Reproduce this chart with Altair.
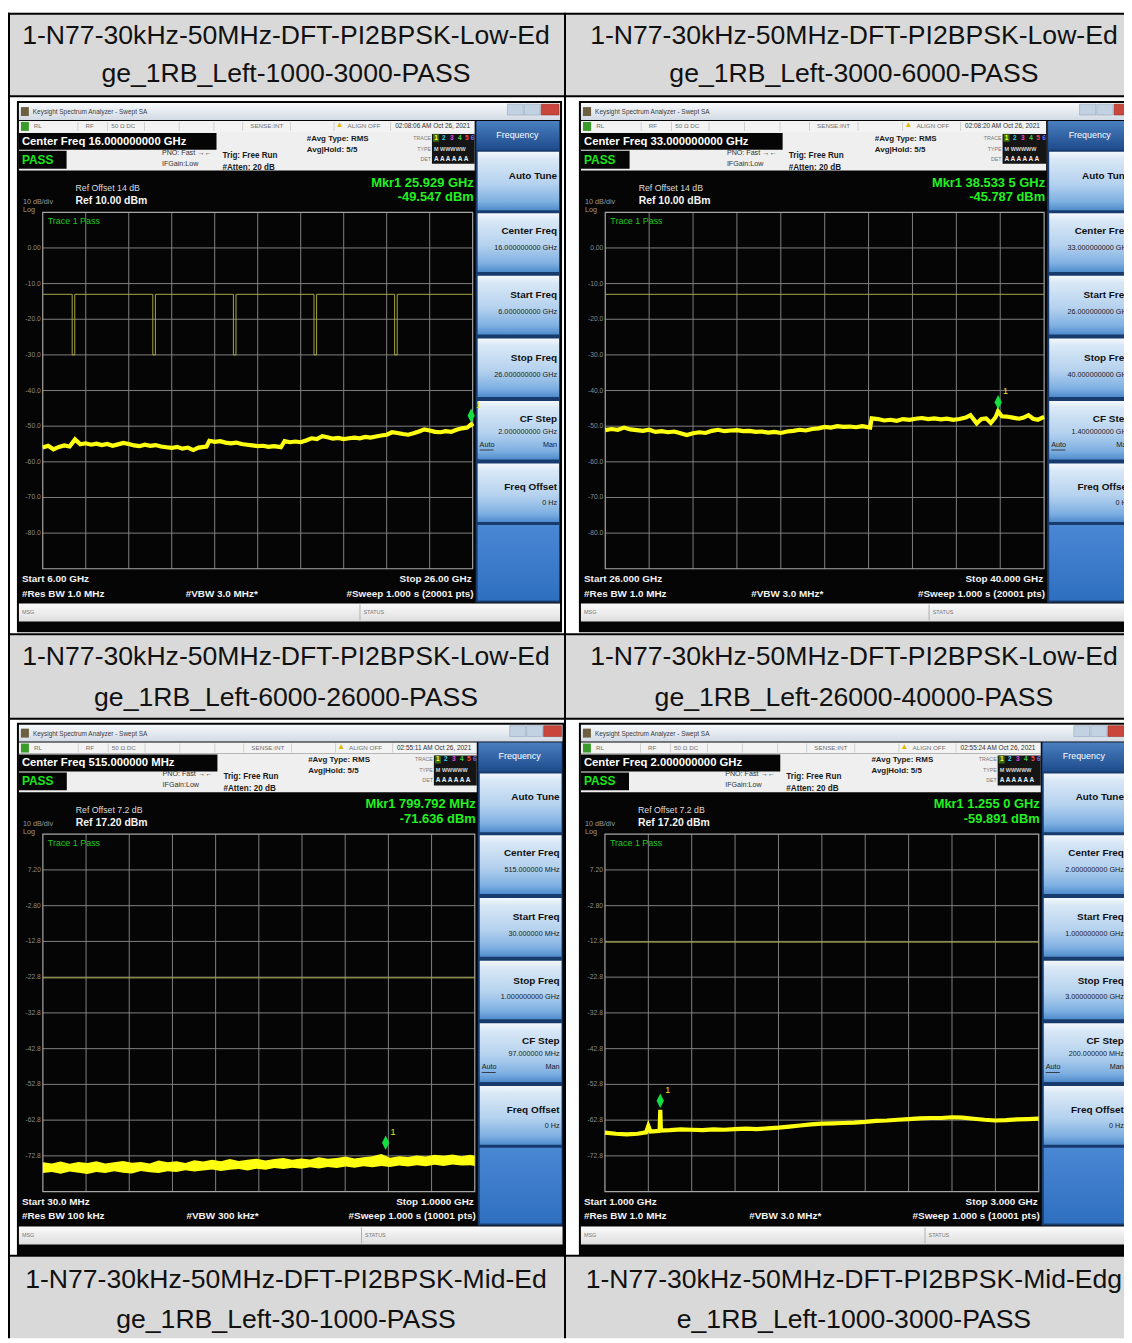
import altair as alt
import pandas as pd

FONT = "Liberation Sans"
W, H = 1124, 1335

# ---------------- table header captions ----------------
HEADERS = [
    ("1-N77-30kHz-50MHz-DFT-PI2BPSK-Low-Ed", "ge_1RB_Left-1000-3000-PASS"),
    ("1-N77-30kHz-50MHz-DFT-PI2BPSK-Low-Ed", "ge_1RB_Left-3000-6000-PASS"),
    ("1-N77-30kHz-50MHz-DFT-PI2BPSK-Low-Ed", "ge_1RB_Left-6000-26000-PASS"),
    ("1-N77-30kHz-50MHz-DFT-PI2BPSK-Low-Ed", "ge_1RB_Left-26000-40000-PASS"),
    ("1-N77-30kHz-50MHz-DFT-PI2BPSK-Mid-Ed", "ge_1RB_Left-30-1000-PASS"),
    ("1-N77-30kHz-50MHz-DFT-PI2BPSK-Mid-Edg", "e_1RB_Left-1000-3000-PASS"),
]

# ---------------- trace data (GHz / MHz, dBm) ----------------
F1 = [6.00, 6.25, 6.50, 6.75, 7.00, 7.25, 7.50, 7.75, 8.00, 8.25,
      8.50, 8.75, 9.00, 9.25, 9.50, 9.75, 10.00, 10.25, 10.50, 10.75,
      11.00, 11.25, 11.50, 11.75, 12.00, 12.25, 12.50, 12.75, 13.00, 13.25,
      13.50, 13.62, 13.75, 14.00, 14.25, 14.50, 14.75, 15.00, 15.25, 15.50,
      15.75, 16.00, 16.25, 16.50, 16.75, 17.00, 17.08, 17.25, 17.50, 17.75,
      18.00, 18.25, 18.50, 18.75, 19.00, 19.25, 19.50, 19.75, 20.00, 20.25,
      20.50, 20.75, 21.00, 21.25, 21.50, 21.75, 22.00, 22.25, 22.50, 22.75,
      23.00, 23.25, 23.50, 23.75, 24.00, 24.25, 24.50, 24.75, 25.00, 25.25,
      25.50, 25.75, 25.93, 26.00]
V1 = [-56.0, -55.5, -56.5, -55.8, -55.4, -55.7, -53.7, -55.1, -54.8, -55.2,
      -54.9, -55.3, -55.0, -55.5, -55.1, -54.7, -55.0, -55.4, -55.6, -55.2,
      -55.5, -55.3, -55.7, -55.9, -56.1, -55.8, -56.3, -56.0, -56.7, -56.0,
      -55.8, -55.7, -54.1, -54.4, -54.2, -54.6, -54.8, -54.6, -55.0, -55.2,
      -55.4, -55.6, -55.5, -55.8, -55.6, -55.8, -55.9, -54.2, -54.5, -54.3,
      -54.5, -54.0, -53.4, -53.6, -52.8, -53.1, -53.5, -53.3, -53.6, -53.4,
      -53.2, -53.4, -53.0, -53.2, -52.9, -52.6, -52.4, -51.7, -51.9, -52.2,
      -52.4, -52.0, -51.5, -50.9, -51.2, -51.6, -51.7, -51.4, -51.6, -51.0,
      -50.6, -50.4, -49.5, -50.1]

F2 = [26.0, 26.2, 26.4, 26.6, 26.8, 27.0, 27.2, 27.4, 27.6, 27.8,
      28.0, 28.2, 28.4, 28.6, 28.8, 29.0, 29.2, 29.4, 29.6, 29.8,
      30.0, 30.2, 30.4, 30.6, 30.8, 31.0, 31.2, 31.4, 31.6, 31.8,
      32.0, 32.2, 32.4, 32.6, 32.8, 33.0, 33.2, 33.4, 33.6, 33.8,
      34.0, 34.2, 34.45, 34.5, 34.7, 34.9, 35.1, 35.3, 35.5, 35.7,
      35.9, 36.1, 36.3, 36.5, 36.7, 36.9, 37.1, 37.3, 37.5, 37.65,
      37.85, 38.0, 38.15, 38.3, 38.45, 38.53, 38.65, 38.8, 39.0, 39.2,
      39.35, 39.5, 39.65, 39.8, 40.0]
V2 = [-51.1, -50.8, -51.0, -50.4, -50.9, -51.1, -51.3, -51.0, -51.6, -51.4,
      -51.7, -51.5, -52.0, -52.5, -52.0, -51.7, -51.9, -51.3, -51.0, -51.4,
      -51.2, -51.1, -51.4, -51.3, -51.6, -51.5, -51.8, -51.6, -51.9, -51.5,
      -51.3, -51.0, -51.2, -50.8, -50.6, -50.2, -50.4, -50.0, -50.2, -50.1,
      -50.3, -50.0, -50.4, -47.8, -48.0, -48.4, -48.2, -48.5, -48.0, -48.2,
      -47.9, -47.7, -48.0, -47.8, -48.1, -47.9, -48.2, -48.0, -47.6, -46.9,
      -49.2, -48.0, -47.8, -49.1, -47.5, -45.8, -47.2, -47.3, -47.6, -47.9,
      -47.6, -46.9, -47.9, -48.2, -47.4]

F3 = [30, 50, 70, 90, 110, 130, 150, 170, 190, 210,
      230, 250, 270, 290, 310, 330, 350, 370, 390, 410,
      430, 450, 470, 490, 510, 530, 550, 570, 590, 610,
      630, 650, 670, 690, 710, 730, 750, 770, 790, 810,
      830, 850, 870, 890, 910, 930, 950, 970, 990, 1000]
HI3 = [-74.6, -74.9, -74.4, -75.0, -74.5, -74.8, -74.3, -74.9, -74.6, -74.2,
       -74.7, -74.5, -74.9, -74.1, -74.6, -74.3, -74.8, -74.0, -74.4, -73.9,
       -74.3, -73.7, -74.2, -73.9, -73.6, -74.1, -73.7, -73.4, -73.9, -73.5,
       -73.8, -73.2, -73.6, -73.4, -73.0, -73.5, -73.2, -72.9, -72.3, -73.3,
       -72.9, -73.1, -72.7, -73.0, -72.5, -72.8, -72.4, -72.9, -72.5, -72.8]
LO3 = [-77.6, -77.3, -77.8, -77.2, -77.5, -77.9, -77.3, -77.6, -77.1, -77.5,
       -77.7, -77.0, -77.4, -77.6, -77.1, -77.3, -76.8, -77.2, -76.9, -76.6,
       -77.0, -76.7, -76.5, -76.9, -76.4, -76.7, -76.2, -76.5, -76.1, -76.4,
       -76.0, -76.3, -75.9, -76.2, -75.8, -76.1, -75.7, -76.0, -75.6, -75.9,
       -75.5, -75.8, -75.4, -75.7, -75.3, -75.6, -75.2, -75.5, -75.4, -75.6]

F4 = [1.00, 1.05, 1.10, 1.15, 1.19, 1.20, 1.21, 1.25, 1.252, 1.255, 1.258,
      1.30, 1.35, 1.40, 1.45, 1.50, 1.55, 1.60, 1.65, 1.70, 1.75,
      1.80, 1.85, 1.90, 1.95, 2.00, 2.05, 2.10, 2.15, 2.20, 2.25,
      2.30, 2.35, 2.40, 2.45, 2.50, 2.55, 2.60, 2.65, 2.70, 2.75,
      2.80, 2.85, 2.90, 2.95, 3.00]
V4 = [-66.3, -66.6, -66.8, -66.6, -66.2, -64.4, -66.0, -65.8, -65.7, -59.9, -65.7,
      -65.6, -65.4, -65.5, -65.6, -65.4, -65.5, -65.3, -65.2, -65.3, -65.1,
      -64.9, -64.6, -64.3, -64.0, -63.8, -63.7, -63.6, -63.5, -63.3, -63.0,
      -62.9, -62.7, -62.5, -62.3, -62.2, -62.2, -62.0, -62.1, -62.4, -62.7,
      -62.9, -62.8, -62.6, -62.5, -62.4]

# limit lines
LIM1_NOTCHES = [7.43, 11.18, 14.93, 18.68, 22.43]
LIM1_LEVEL, LIM1_FLOOR = -13.0, -30.0

YL_A = ["0.00", "-10.0", "-20.0", "-30.0", "-40.0", "-50.0", "-60.0", "-70.0", "-80.0"]
YL_B = ["7.20", "-2.80", "-12.8", "-22.8", "-32.8", "-42.8", "-52.8", "-62.8", "-72.8"]

PANELS = [
    dict(X0=17, Y0=97, sx=1.0, sy=1.0, start=6.0, stop=26.0, ref=10.0, ylabels=YL_A,
         center="Center Freq 16.000000000 GHz", time="02:08:06 AM Oct 26, 2021",
         mkr1="Mkr1 25.929 GHz", mkr2="-49.547 dBm", mkr=(25.929, -49.547),
         refoff="Ref Offset 14 dB", reflvl="Ref 10.00 dBm",
         startt="Start 6.00 GHz", stopt="Stop 26.00 GHz", rbw="#Res BW 1.0 MHz",
         vbw="#VBW 3.0 MHz*", sweep="#Sweep  1.000 s (20001 pts)",
         menu=["16.000000000 GHz", "6.000000000 GHz", "26.000000000 GHz", "2.000000000 GHz", "0 Hz"],
         trace=("line", F1, V1), limit="notch"),
    dict(X0=583, Y0=97, sx=1.0208, sy=1.0, start=26.0, stop=40.0, ref=10.0, ylabels=YL_A,
         center="Center Freq 33.000000000 GHz", time="02:08:20 AM Oct 26, 2021",
         mkr1="Mkr1 38.533 5 GHz", mkr2="-45.787 dBm", mkr=(38.5335, -45.787),
         refoff="Ref Offset 14 dB", reflvl="Ref 10.00 dBm",
         startt="Start 26.000 GHz", stopt="Stop 40.000 GHz", rbw="#Res BW 1.0 MHz",
         vbw="#VBW 3.0 MHz*", sweep="#Sweep  1.000 s (20001 pts)",
         menu=["33.000000000 GHz", "26.000000000 GHz", "40.000000000 GHz", "1.400000000 GHz", "0 Hz"],
         trace=("line", F2, V2), limit=-13.0),
    dict(X0=17, Y0=723, sx=1.0046, sy=1.0028, start=30.0, stop=1000.0, ref=17.2, ylabels=YL_B,
         center="Center Freq 515.000000 MHz", time="02:55:11 AM Oct 26, 2021",
         mkr1="Mkr1 799.792 MHz", mkr2="-71.636 dBm", mkr=(799.792, -71.636),
         refoff="Ref Offset 7.2 dB", reflvl="Ref 17.20 dBm",
         startt="Start 30.0 MHz", stopt="Stop 1.0000 GHz", rbw="#Res BW 100 kHz",
         vbw="#VBW 300 kHz*", sweep="#Sweep  1.000 s (10001 pts)",
         menu=["515.000000 MHz", "30.000000 MHz", "1.000000000 GHz", "97.000000 MHz", "0 Hz"],
         trace=("band", F3, HI3, LO3), limit=-23.0),
    dict(X0=583, Y0=723, sx=1.009, sy=1.0028, start=1.0, stop=3.0, ref=17.2, ylabels=YL_B,
         center="Center Freq 2.000000000 GHz", time="02:55:24 AM Oct 26, 2021",
         mkr1="Mkr1 1.255 0 GHz", mkr2="-59.891 dBm", mkr=(1.255, -59.891),
         refoff="Ref Offset 7.2 dB", reflvl="Ref 17.20 dBm",
         startt="Start 1.000 GHz", stopt="Stop 3.000 GHz", rbw="#Res BW 1.0 MHz",
         vbw="#VBW 3.0 MHz*", sweep="#Sweep  1.000 s (10001 pts)",
         menu=["2.000000000 GHz", "1.000000000 GHz", "3.000000000 GHz", "200.000000 MHz", "0 Hz"],
         trace=("line", F4, V4), limit=-13.0),
]

DIAMOND = "M0,-1L0.5,0L0,1L-0.5,0Z"
GRID = "#808080"
LIMIT = "#a8a845"
YELLOW = "#ffff10"
GREEN = "#19e619"


def grad(stops):
    return alt.LinearGradient(
        gradient="linear",
        stops=[alt.GradientStop(color=c, offset=o) for o, c in stops],
        x1=0, x2=0, y1=0, y2=1)


def px_rect(rows, **mk):
    df = pd.DataFrame(rows, columns=["x", "y", "x2", "y2"])
    return alt.Chart(df).mark_rect(**mk).encode(
        x=alt.X("x:Q", scale=None, axis=None), x2="x2:Q",
        y=alt.Y("y:Q", scale=None, axis=None), y2="y2:Q")


def px_text(rows, size, color, weight="normal", align="left", font=FONT, **mk):
    df = pd.DataFrame(rows, columns=["x", "y", "t"])
    return alt.Chart(df).mark_text(
        align=align, baseline="middle", fontSize=size, color=color,
        fontWeight=weight, font=font, **mk).encode(
        x=alt.X("x:Q", scale=None, axis=None),
        y=alt.Y("y:Q", scale=None, axis=None), text="t:N")


layers = []

# ---------------- table: header cells, borders ----------------
ROW_BANDS = [(1, 84), (627, 711), (1253, 1335)]
COL_BANDS = [(2, 560), (562, 1124)]
layers.append(px_rect([(c0, r0, c1, r1) for (r0, r1) in ROW_BANDS for (c0, c1) in COL_BANDS],
                      fill="#d9d9d9"))
hdr_rows = []
TXT_Y = [(23, 62), (649, 690), (1276, 1317)]
TXT_X = [280, 852]
for k, (l1, l2) in enumerate(HEADERS):
    r, c = divmod(k, 2)
    hdr_rows.append((TXT_X[c], TXT_Y[r][0], l1))
    hdr_rows.append((TXT_X[c], TXT_Y[r][1], l2))
layers.append(px_text(hdr_rows, 26.8, "#111111", align="center"))
borders = [(0, 0, W, 2), (0, 83, W, 85), (0, 625, W, 627), (0, 710, W, 712),
           (0, 1251, W, 1253), (0, 0, 2, H), (560, 0, 562, H)]
layers.append(px_rect(borders, fill="#000000"))


# ---------------- analyzer panels ----------------
def panel(p):
    X0, Y0, sx, sy = p["X0"], p["Y0"], p["sx"], p["sy"]

    def tx(x):
        return X0 + (x - 17) * sx - 8

    def ty(y):
        return Y0 + (y - 97) * sy - 8

    def R(boxes, **mk):
        return px_rect([(tx(a), ty(b), tx(c), ty(d)) for a, b, c, d in boxes], **mk)

    def T(items, size, color, weight="normal", align="left", **mk):
        return px_text([(tx(a), ty(b), s) for a, b, s in items], size, color, weight, align, **mk)

    L = []
    # frame and window chrome
    L.append(R([(17, 97, 566, 632)], fill="#050505"))
    L.append(R([(19, 99, 564, 116)], fill=grad([(0, "#f8fafc"), (1, "#d2dae4")])))
    L.append(R([(21, 103, 29, 112)], fill="#6d6040"))
    L.append(T([(33, 108, "Keysight Spectrum Analyzer - Swept SA")], 6.5, "#3a3a3a"))
    L.append(R([(511, 100, 527, 111), (528, 100, 544, 111)], fill="#c3d2e2", stroke="#8a9bb0", strokeWidth=0.5))
    L.append(R([(545, 100, 563, 111)], fill="#c8463c", stroke="#8a2a20", strokeWidth=0.5))
    # status row
    L.append(R([(19, 117, 478, 128)], fill="#f3f3f3"))
    L.append(R([(x, 118, x + 0.8, 127) for x in [78, 108, 145, 180, 215, 244, 292, 336, 393]], fill="#c8c8c8"))
    L.append(R([(21, 118, 29, 127)], fill="#3a9a2a"))
    L.append(T([(34, 122, "RL"), (86, 122, "RF"), (112, 122, "50 \u03a9   DC"),
                (252, 122, "SENSE:INT"), (350, 122, "ALIGN OFF")], 6.3, "#707070"))
    L.append(T([(342, 121, "\u25b2")], 8, "#e0b800", align="center"))
    L.append(T([(398, 122, p["time"])], 6.5, "#303030"))
    # info block
    L.append(R([(19, 128, 478, 167)], fill="#efefef"))
    L.append(R([(19, 129, 218, 146), (19, 147, 67, 165)], fill="#050505"))
    L.append(T([(22, 138, p["center"])], 11.4, "#ffffff", "bold"))
    L.append(T([(22, 156, "PASS")], 12, GREEN, "bold"))
    L.append(T([(163, 149, "PNO: Fast \u2192\u2190"), (163, 160, "IFGain:Low")], 7.2, "#333333"))
    L.append(T([(224, 152, "Trig: Free Run"), (224, 164, "#Atten: 20 dB")], 8.2, "#1a1a1a", "bold"))
    L.append(T([(309, 135, "#Avg Type: RMS"), (309, 146, "Avg|Hold: 5/5")], 8.0, "#1a1a1a", "bold"))
    L.append(T([(434, 134, "TRACE"), (434, 145, "TYPE"), (434, 155, "DET")], 5.3, "#777777", align="right"))
    L.append(R([(435, 130, 478, 160)], fill="#151515"))
    L.append(R([(436, 130, 442, 138)], fill="#3a6a10"))
    for ch, xx, col in [("1", 439, "#ffff30"), ("2", 447, "#30d8f0"), ("3", 455, "#e048e0"),
                        ("4", 463, "#48d048"), ("5", 470, "#ff4848"), ("6", 476, "#7070ff")]:
        L.append(T([(xx, 134, ch)], 6.5, col, "bold", align="center"))
    L.append(T([(437, 145, "M WWWWW")], 5.5, "#d8d8d8", "bold"))
    L.append(T([(437, 155, "A A A A A A")], 6.5, "#f0f0f0", "bold"))
    # right soft-key menu
    L.append(R([(479, 117, 564, 602)], fill="#183b6e"))
    L.append(R([(480, 117, 563, 146)], fill=grad([(0, "#4a7fc0"), (1, "#1e4c8c")])))
    L.append(T([(521, 131, "Frequency")], 9, "#ffffff", align="center"))
    tops = [148, 210, 273, 336, 399, 462]
    L.append(R([(481, t, 563, t + 59) for t in tops],
               fill=grad([(0, "#f4f8fc"), (0.12, "#d9e8f6"), (0.55, "#b4d1ee"), (0.85, "#7fb0e2"), (1, "#4f8ccc")])))
    L.append(R([(481, 524, 563, 600)], fill=grad([(0, "#4a88d4"), (1, "#2f6fc0")])))
    labels = [(561, tops[0] + 24, "Auto Tune"), (561, tops[1] + 18, "Center Freq"),
              (561, tops[2] + 19, "Start Freq"), (561, tops[3] + 20, "Stop Freq"),
              (561, tops[4] + 18, "CF Step"), (561, tops[5] + 24, "Freq Offset")]
    L.append(T(labels, 10, "#101010", "bold", align="right"))
    vals = [(561, tops[1] + 35, p["menu"][0]), (561, tops[2] + 36, p["menu"][1]),
            (561, tops[3] + 37, p["menu"][2]), (561, tops[4] + 31, p["menu"][3]),
            (561, tops[5] + 40, p["menu"][4]), (561, tops[4] + 44, "Man")]
    L.append(T(vals, 7.3, "#202020", align="right"))
    L.append(T([(483, tops[4] + 44, "Auto")], 7.3, "#202020"))
    L.append(R([(483, tops[4] + 49, 497, tops[4] + 49.8)], fill="#202020"))
    # readouts
    L.append(T([(477, 179, p["mkr1"]), (477, 194, p["mkr2"])], 13, "#22f022", "bold", align="right"))
    L.append(T([(76, 185, p["refoff"])], 8.8, "#dcdcdc"))
    L.append(T([(76, 198, p["reflvl"])], 10.5, "#f4f4f4", "bold"))
    L.append(T([(23, 199, "10 dB/div"), (23, 207, "Log")], 7.3, "#9a9a9a"))
    L.append(T([(48, 218, "Trace 1 Pass")], 9, "#20c820"))
    L.append(T([(22, 578, p["startt"]), (22, 593, p["rbw"]), (187, 593, p["vbw"])], 10, "#f2f2f2", "bold"))
    L.append(T([(475, 578, p["stopt"]), (477, 593, p["sweep"])], 10, "#f2f2f2", "bold", align="right"))
    # message bar
    L.append(R([(19, 603, 564, 621)], fill=grad([(0, "#fbfbfb"), (1, "#dedede")])))
    L.append(R([(362, 604, 363, 620)], fill="#b0b0b0"))
    L.append(T([(22, 612, "MSG"), (366, 612, "STATUS")], 5.5, "#777777"))

    # ---- graticule and data through scales ----
    gx0, gx1, gy0, gy1 = tx(43), tx(476), ty(209), ty(568)
    xs = alt.Scale(domain=[p["start"], p["stop"]], range=[gx0, gx1], nice=False, zero=False)
    ys = alt.Scale(domain=[p["ref"] - 100, p["ref"]], range=[gy1, gy0], nice=False, zero=False)

    def X(f):
        return alt.X(f, scale=xs, axis=None)

    def Y(f):
        return alt.Y(f, scale=ys, axis=None)

    span = p["stop"] - p["start"]
    vdf = pd.DataFrame({"f": [p["start"] + i * span / 10 for i in range(1, 10)]})
    L.append(alt.Chart(vdf).mark_rule(color=GRID, strokeWidth=1).encode(
        x=X("f:Q"), y=alt.value(gy0), y2=alt.value(gy1)))
    hdf = pd.DataFrame({"lv": [p["ref"] - 10 * i for i in range(1, 10)], "t": p["ylabels"]})
    L.append(alt.Chart(hdf).mark_rule(color=GRID, strokeWidth=1).encode(
        y=Y("lv:Q"), x=alt.value(gx0), x2=alt.value(gx1)))
    L.append(alt.Chart(hdf).mark_text(align="right", baseline="middle", fontSize=6.8,
                                      color="#8c8c8c", font=FONT).encode(
        y=Y("lv:Q"), x=alt.value(gx0 - 2), text="t:N"))
    L.append(px_rect([(gx0, gy0, gx1, gy1)], fillOpacity=0, stroke="#a6a6a6", strokeWidth=1.2))

    # limit line
    if p["limit"] == "notch":
        pts = [(p["start"], LIM1_LEVEL)]
        for c in LIM1_NOTCHES:
            pts += [(c - 0.06, LIM1_LEVEL), (c - 0.06, LIM1_FLOOR), (c + 0.06, LIM1_FLOOR), (c + 0.06, LIM1_LEVEL)]
        pts.append((p["stop"], LIM1_LEVEL))
    else:
        pts = [(p["start"], p["limit"]), (p["stop"], p["limit"])]
    ldf = pd.DataFrame({"f": [a for a, b in pts], "v": [b for a, b in pts], "i": list(range(len(pts)))})
    L.append(alt.Chart(ldf).mark_line(color=LIMIT, strokeWidth=1).encode(
        x=X("f:Q"), y=Y("v:Q"), order="i:Q"))

    # trace
    tr = p["trace"]
    if tr[0] == "line":
        tdf = pd.DataFrame({"f": tr[1], "v": tr[2]})
        L.append(alt.Chart(tdf).mark_line(color=YELLOW, strokeWidth=4.2, strokeJoin="miter").encode(
            x=X("f:Q"), y=Y("v:Q")))
    else:
        tdf = pd.DataFrame({"f": tr[1], "hi": tr[2], "lo": tr[3]})
        L.append(alt.Chart(tdf).mark_area(color=YELLOW, opacity=1).encode(
            x=X("f:Q"), y=Y("hi:Q"), y2="lo:Q"))

    # marker
    mdf = pd.DataFrame({"f": [p["mkr"][0]], "v": [p["mkr"][1]]})
    L.append(alt.Chart(mdf).mark_point(shape=DIAMOND, size=210, filled=True, color="#12e040",
                                       opacity=1, yOffset=-9).encode(x=X("f:Q"), y=Y("v:Q")))
    L.append(alt.Chart(mdf).mark_text(text="1", color="#f0e020", fontSize=9, font=FONT,
                                      align="left", dx=5, dy=-20).encode(x=X("f:Q"), y=Y("v:Q")))
    return L


for p in PANELS:
    layers.extend(panel(p))

chart = alt.layer(*layers).resolve_scale(x="independent", y="independent").properties(
    width=W, height=H, autosize=alt.AutoSizeParams(type="none"), padding=0
).configure_view(stroke=None)

chart.save("out.html", embed_options={"renderer": "svg", "actions": False})
